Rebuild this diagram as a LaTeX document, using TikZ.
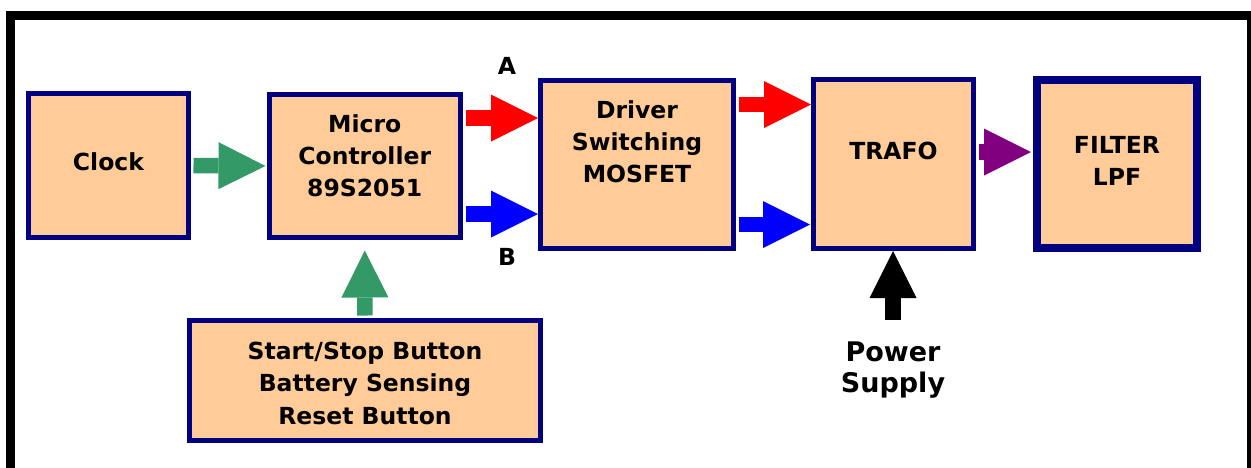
\documentclass[tikz,border=0pt]{standalone}
\usepackage{fontspec}
\setmainfont{DejaVu Sans}
\usetikzlibrary{arrows.meta}
\definecolor{peach}{HTML}{FFCC99}
\definecolor{navyb}{HTML}{000080}
\definecolor{agreen}{HTML}{339966}
\definecolor{ared}{HTML}{FF0000}
\definecolor{ablue}{HTML}{0000FF}
\definecolor{apurple}{HTML}{800080}
\begin{document}
\begin{tikzpicture}[x=1pt,y=-1pt,
  box/.style={draw=navyb, fill=peach, line width=5pt, inner sep=0pt, rectangle},
  lbl/.style={font=\bfseries\fontsize{23.5}{32}\selectfont, align=center, anchor=base, inner sep=0pt},
  plbl/.style={font=\bfseries\fontsize{27}{31}\selectfont, align=center, anchor=base, inner sep=0pt},
  barrow/.style={line width=15.5pt, -{Triangle[width=47pt,length=47pt,line width=0pt]}}
]
\useasboundingbox (0,0) rectangle (1251,467);
\clip (0,0) rectangle (1251,467);
% frame
\draw[line width=9pt] (10.5,15.5) rectangle (1251.5,490);
% boxes
\node[box, minimum width=160pt, minimum height=144pt] (clock) at (108.5,165.5) {};
\node[box, minimum width=191.5pt, minimum height=143pt] (micro) at (364.75,166) {};
\node[box, minimum width=193pt, minimum height=168pt] (driver) at (637,164.5) {};
\node[box, minimum width=160pt, minimum height=169pt] (trafo) at (893.5,164) {};
\node[box, line width=8pt, minimum width=160pt, minimum height=168pt] (filter) at (1117,164) {};
\node[box, minimum width=351pt, minimum height=120pt] (start) at (365,380.5) {};
% texts (anchor base = baseline of the last line)
\node[lbl] (tclock) at (108.5,170) {Clock};
\node[lbl] (tmicro) at (364.75,196) {Micro\\Controller\\89S2051};
\node[lbl] (tdriver) at (637,182) {Driver\\Switching\\MOSFET};
\node[lbl] (ttrafo) at (893.5,159) {TRAFO};
\node[lbl] (tfilter) at (1117,185) {FILTER\\LPF};
\node[lbl, font=\bfseries\fontsize{23.5}{32.5}\selectfont] (tstart) at (365,424) {Start/Stop Button\\Battery Sensing\\Reset Button};
\node[lbl] (la) at (507,74) {A};
\node[lbl] (lb) at (507,265) {B};
\node[plbl] (tpower) at (893,392) {Power\\Supply};
% arrows
\draw[barrow, agreen, shorten <=2.5pt, shorten >=1pt] (clock.east) -- (micro.west);
\coordinate (a1) at ([yshift=48pt]micro.east);
\coordinate (b1) at ([yshift=-48pt]micro.east);
\draw[barrow, ared, shorten <=2.5pt] (a1) -- (a1 -| driver.west);
\draw[barrow, ablue, shorten <=2.5pt] (b1) -- (b1 -| driver.west);
\coordinate (a2) at ([yshift=60pt]driver.east);
\coordinate (b2) at ([yshift=-60pt]driver.east);
\draw[barrow, ared, shorten <=2.5pt] (a2) -- (a2 -| trafo.west);
\draw[barrow, ablue, shorten <=2.5pt, shorten >=1pt] (b2) -- (b2 -| trafo.west);
\coordinate (c2) at ([yshift=12pt]trafo.east);
\draw[barrow, apurple, shorten <=2.5pt, shorten >=2pt] (c2) -- (c2 -| filter.west);
\draw[barrow, agreen, shorten <=2.5pt, shorten >=10.5pt] (start.north) -- (micro.south);
\coordinate (psup) at (893,320);
\draw[barrow, black] (psup) -- (psup |- trafo.south);
\end{tikzpicture}
\end{document}
